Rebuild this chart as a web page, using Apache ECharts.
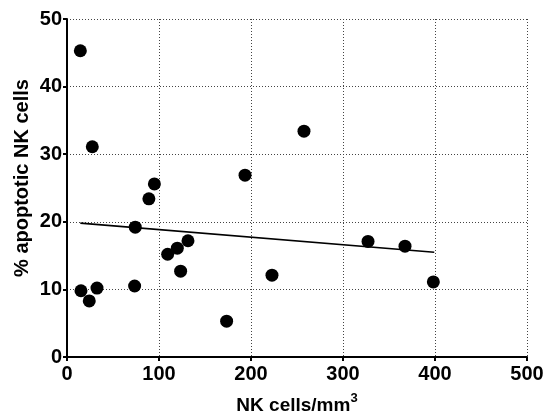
<!DOCTYPE html>
<html><head><meta charset="utf-8">
<script src="https://cdn.jsdelivr.net/npm/echarts@6/dist/echarts.min.js"></script>
<style>html,body{margin:0;padding:0;background:#fff}#c{width:556px;height:416px}</style>
</head><body><div id="c"></div>
<script>
const nkCells = [14.5, 27.5, 95, 89, 193.5, 257.6, 74.2, 109.4, 119.9, 131.5, 123.5, 15.2, 24.2, 32.6, 73.5, 173.5, 222.8, 327.2, 367.4, 398.2];
const apoptotic = [45.3, 31.1, 25.6, 23.4, 26.9, 33.4, 19.2, 15.2, 16.1, 17.2, 12.7, 9.8, 8.3, 10.2, 10.5, 5.3, 12.1, 17.1, 16.4, 11.1];
const fitX = [14.5, 399.2];
const fitY = [19.8, 15.5];
const xTicks = [0, 100, 200, 300, 400, 500];
const yTicks = [0, 10, 20, 30, 40, 50];

const font = '"Liberation Sans", Arial, sans-serif';
const chart = echarts.init(document.getElementById('c'), null, {renderer: 'canvas'});
chart.setOption({
  animation: false,
  grid: {left: 67, right: 29, top: 19, bottom: 59, containLabel: false, outerBoundsMode: 'none'},
  xAxis: {
    type: 'value', min: xTicks[0], max: xTicks[xTicks.length-1], interval: 100,
    name: '{b|NK cells/mm}{s|3}', nameLocation: 'middle', nameGap: 35,
    nameTextStyle: {rich: {
      b: {fontFamily: font, fontWeight: 'bold', fontSize: 19, color: '#000', verticalAlign: 'bottom'},
      s: {fontFamily: font, fontWeight: 'bold', fontSize: 13, color: '#000', verticalAlign: 'top', padding: [0,0,10,0]}
    }},
    axisLine: {lineStyle: {color: '#000', width: 2}},
    axisTick: {show: true, length: 4, lineStyle: {color: '#000', width: 2}},
    axisLabel: {fontFamily: font, fontWeight: 'bold', fontSize: 20, color: '#000', margin: 7},
    splitLine: {show: true, lineStyle: {color: '#444', type: [1, 2], width: 1}}
  },
  yAxis: {
    type: 'value', min: yTicks[0], max: yTicks[yTicks.length-1], interval: 10,
    name: '% apoptotic NK cells', nameLocation: 'middle', nameGap: 35, nameMoveOverlap: false,
    nameTextStyle: {fontFamily: font, fontWeight: 'bold', fontSize: 20, color: '#000', padding: [0, 0, 0, 20]},
    axisLine: {show: true, lineStyle: {color: '#000', width: 2}},
    axisTick: {show: true, length: 4, lineStyle: {color: '#000', width: 2}},
    axisLabel: {fontFamily: font, fontWeight: 'bold', fontSize: 20, color: '#000', margin: 5},
    splitLine: {show: true, lineStyle: {color: '#444', type: [1, 2], width: 1}}
  },
  series: [
    {type: 'scatter', data: nkCells.map((x, i) => [x, apoptotic[i]]), symbolSize: 13,
     itemStyle: {color: '#000', opacity: 1}, z: 3},
    {type: 'line', data: fitX.map((x, i) => [x, fitY[i]]), symbol: 'none',
     lineStyle: {color: '#000', width: 1.6}, z: 2}
  ]
});
</script></body></html>
